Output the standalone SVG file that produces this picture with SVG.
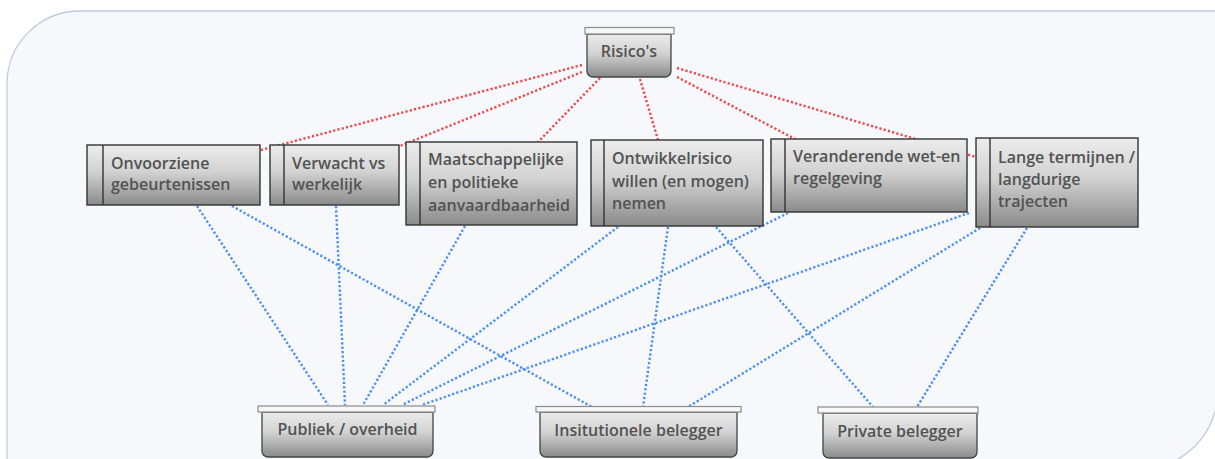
<svg xmlns="http://www.w3.org/2000/svg" width="1215" height="459" viewBox="0 0 1215 459">
  <defs>
    <linearGradient id="shade" x1="0" y1="0" x2="0" y2="1">
      <stop offset="0" stop-color="#ececec"/>
      <stop offset="0.45" stop-color="#d2d2d2"/>
      <stop offset="1" stop-color="#8a8a8a"/>
    </linearGradient>
    <style>
      .panel { fill: #f6f8fc; stroke: #bccbe2; stroke-width: 1.3; }
      .box { fill: url(#shade); stroke: #333; stroke-width: 1.4; }
      .div { stroke: #333; stroke-width: 1.4; }
      .cap { fill: #f7f7f7; stroke: #8c8c8c; stroke-width: 1.2; }
      .body { fill: url(#shade); stroke: #444; stroke-width: 1.3; }
      .lbl { font-family: "Open Sans", "Liberation Sans", sans-serif; font-size: 16px; font-weight: 600; fill: #525252; }
      .mid { text-anchor: middle; }
      .red { fill: none; stroke: #f0474a; stroke-width: 2.4; stroke-dasharray: 2.2 2.2; }
      .blue { fill: none; stroke: #4a8ff2; stroke-width: 2.4; stroke-dasharray: 2.2 2.2; }
    </style>
  </defs>

  <!-- background panel -->
  <path class="panel" d="M7,470 V84 A73,73 0 0 1 80,11 H1218 V390 A80,80 0 0 1 1138,470 Z"/>

  <!-- connectors -->
  <g id="connectors">
    <path class="red" d="M582,65 L261,150"/>
    <path class="red" d="M582,72 L400,146"/>
    <path class="red" d="M600,78 L538,142"/>
    <path class="red" d="M640,79 L658,140"/>
    <path class="red" d="M677,77 L795,139"/>
    <path class="red" d="M677,68 L976,157"/>

    <path class="blue" d="M197,206 L328,405"/>
    <path class="blue" d="M232,206 L592,407"/>
    <path class="blue" d="M336,206 L345,405"/>
    <path class="blue" d="M465,226 L363,405"/>
    <path class="blue" d="M618,227 L383,405"/>
    <path class="blue" d="M668,227 L643,407"/>
    <path class="blue" d="M716,227 L873,407"/>
    <path class="blue" d="M788,213 L402,405"/>
    <path class="blue" d="M969,213 L422,405"/>
    <path class="blue" d="M980,228 L688,407"/>
    <path class="blue" d="M1027,228 L917,407"/>
  </g>

  <!-- top node -->
  <g id="risicos">
    <path class="body" d="M587,34 H671 V71 A6,6 0 0 1 665,77 H593 A6,6 0 0 1 587,71 Z"/>
    <rect class="cap" x="585" y="27.5" width="89" height="6.5"/>
    <text class="lbl mid" x="629" y="57">Risico's</text>
  </g>

  <!-- middle nodes -->
  <g id="onvoorziene">
    <rect class="box" x="87" y="145" width="173" height="60"/>
    <line class="div" x1="103" y1="145" x2="103" y2="205"/>
    <text class="lbl" x="111" y="169">Onvoorziene</text>
    <text class="lbl" x="111" y="190">gebeurtenissen</text>
  </g>
  <g id="verwacht">
    <rect class="box" x="270" y="145" width="129" height="60"/>
    <line class="div" x1="284" y1="145" x2="284" y2="205"/>
    <text class="lbl" x="292" y="169">Verwacht vs</text>
    <text class="lbl" x="292" y="190">werkelijk</text>
  </g>
  <g id="maatschappelijk">
    <rect class="box" x="406" y="142" width="171" height="83"/>
    <line class="div" x1="420" y1="142" x2="420" y2="225"/>
    <text class="lbl" x="428" y="165">Maatschappelijke</text>
    <text class="lbl" x="428" y="188">en politieke</text>
    <text class="lbl" x="428" y="211">aanvaardbaarheid</text>
  </g>
  <g id="ontwikkelrisico">
    <rect class="box" x="591" y="140" width="172" height="86"/>
    <line class="div" x1="604" y1="140" x2="604" y2="226"/>
    <text class="lbl" x="612" y="164">Ontwikkelrisico</text>
    <text class="lbl" x="612" y="187">willen (en mogen)</text>
    <text class="lbl" x="612" y="209">nemen</text>
  </g>
  <g id="regelgeving">
    <rect class="box" x="771" y="139" width="196" height="73"/>
    <line class="div" x1="785" y1="139" x2="785" y2="212"/>
    <text class="lbl" x="793" y="162">Veranderende wet-en</text>
    <text class="lbl" x="793" y="184">regelgeving</text>
  </g>
  <g id="termijnen">
    <rect class="box" x="976" y="138" width="162" height="89"/>
    <line class="div" x1="990" y1="138" x2="990" y2="227"/>
    <text class="lbl" x="998" y="163">Lange termijnen /</text>
    <text class="lbl" x="998" y="185">langdurige</text>
    <text class="lbl" x="998" y="207">trajecten</text>
  </g>

  <!-- bottom nodes -->
  <g id="publiek">
    <path class="body" d="M262,412 H433 V451 A6,6 0 0 1 427,457 H268 A6,6 0 0 1 262,451 Z"/>
    <rect class="cap" x="258" y="406" width="177" height="6"/>
    <text class="lbl mid" x="347.5" y="435">Publiek / overheid</text>
  </g>
  <g id="institutioneel">
    <path class="body" d="M540,412 H737 V451 A6,6 0 0 1 731,457 H546 A6,6 0 0 1 540,451 Z"/>
    <rect class="cap" x="536" y="406.5" width="205" height="5.5"/>
    <text class="lbl mid" x="638.5" y="436">Insitutionele belegger</text>
  </g>
  <g id="privaat">
    <path class="body" d="M823,413 H977 V452 A6,6 0 0 1 971,458 H829 A6,6 0 0 1 823,452 Z"/>
    <rect class="cap" x="818" y="407" width="160" height="6"/>
    <text class="lbl mid" x="900" y="437">Private belegger</text>
  </g>
</svg>
